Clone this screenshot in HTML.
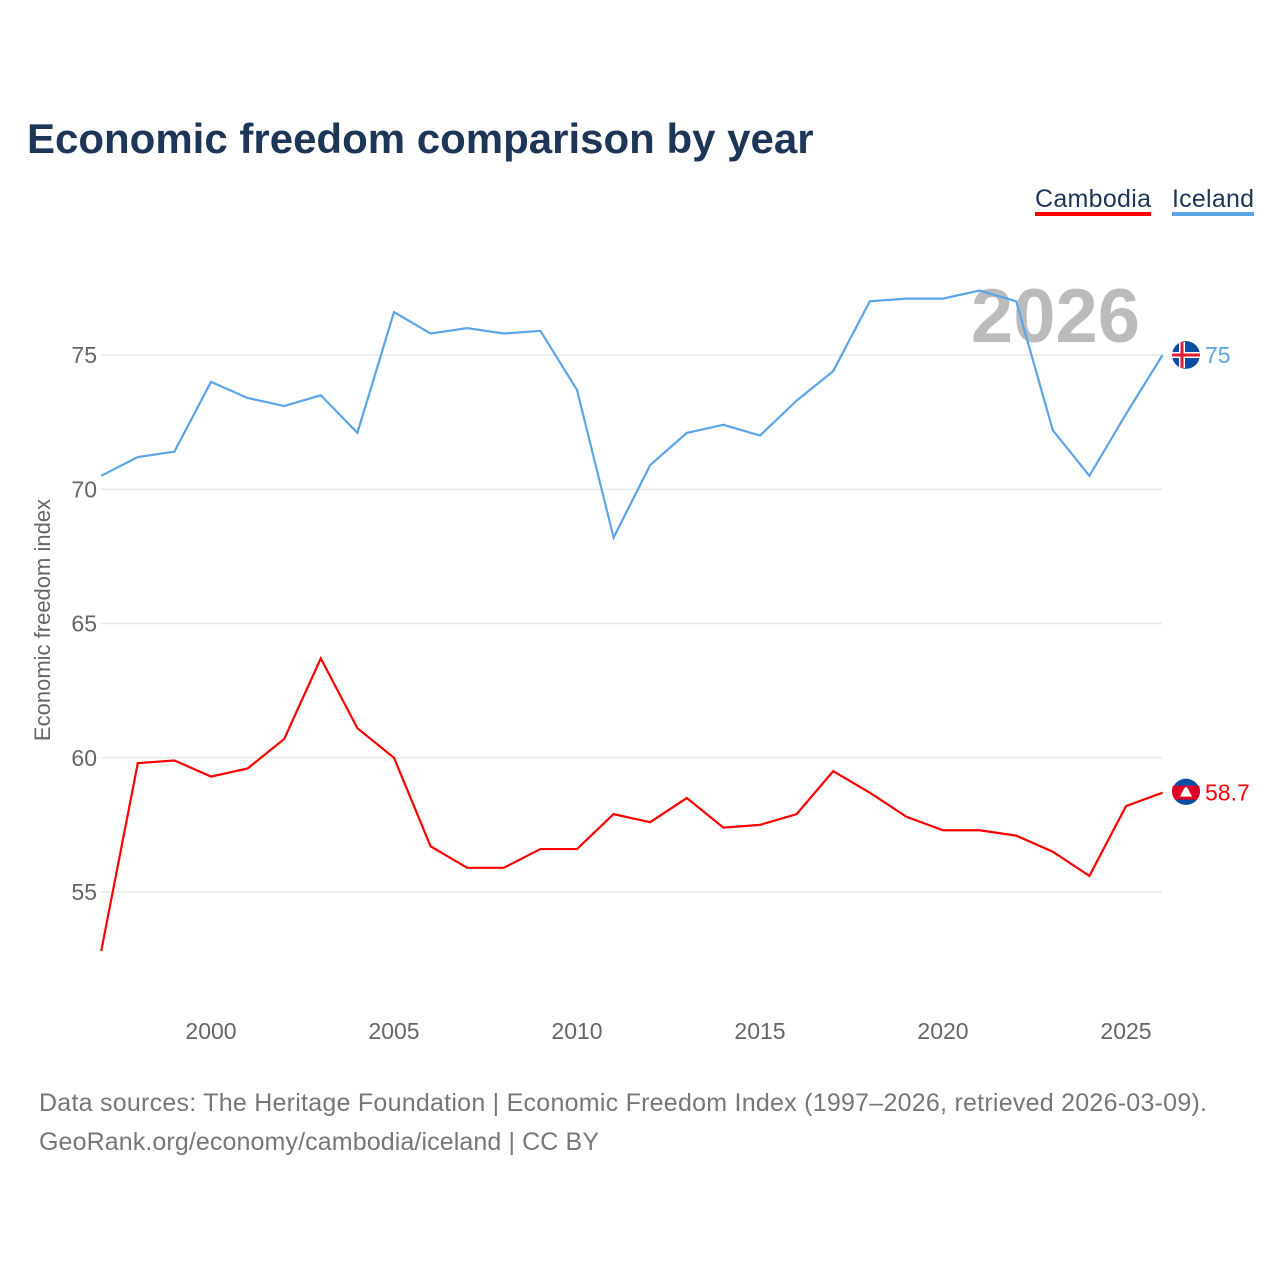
<!DOCTYPE html>
<html><head><meta charset="utf-8"><style>
body{margin:0;background:#fff;font-family:"Liberation Sans",sans-serif}
#wrap{position:relative;width:1280px;height:1280px}
</style></head><body>
<div id="wrap">
<svg id="svg" width="1280" height="1280" xmlns="http://www.w3.org/2000/svg">
<defs>
<clipPath id="cI"><circle cx="1186" cy="355" r="14"/></clipPath>
<clipPath id="cC"><circle cx="1186" cy="791" r="14"/></clipPath>
</defs>
<text x="27" y="153" font-size="42" font-weight="bold" fill="#1d3557">Economic freedom comparison by year</text>
<g><text x="1035" y="207" font-size="25" fill="#1d3557" textLength="116">Cambodia</text><rect x="1035" y="212" width="116" height="4" fill="#ff0000"/></g>
<g><text x="1172" y="207" font-size="25" fill="#1d3557" textLength="82">Iceland</text><rect x="1172" y="212" width="82" height="4" fill="#5ba4e8"/></g>
<text x="1140" y="342" font-size="76" font-weight="bold" fill="#bbbbbb" text-anchor="end">2026</text>
<g id="grid"></g><g id="xt"></g><g id="lines"></g>
<text transform="translate(50,620) rotate(-90)" font-size="22" fill="#666" text-anchor="middle">Economic freedom index</text>
<text x="39" y="1111" font-size="25" fill="#777" textLength="1168">Data sources: The Heritage Foundation | Economic Freedom Index (1997–2026, retrieved 2026-03-09).</text>
<text x="39" y="1150" font-size="25" fill="#777" textLength="560">GeoRank.org/economy/cambodia/iceland | CC BY</text>
</svg></div>
<script>
const years=[1997,1998,1999,2000,2001,2002,2003,2004,2005,2006,2007,2008,2009,2010,2011,2012,2013,2014,2015,2016,2017,2018,2019,2020,2021,2022,2023,2024,2025,2026];
const iceland=[70.5,71.2,71.4,74.0,73.4,73.1,73.5,72.1,76.6,75.8,76.0,75.8,75.9,73.7,68.2,70.9,72.1,72.4,72.0,73.3,74.4,77.0,77.1,77.1,77.4,77.0,72.2,70.5,72.8,75.0];
const cambodia=[52.8,59.8,59.9,59.3,59.6,60.7,63.7,61.1,60.0,56.7,55.9,55.9,56.6,56.6,57.9,57.6,58.5,57.4,57.5,57.9,59.5,58.7,57.8,57.3,57.3,57.1,56.5,55.6,58.2,58.7];
const yTicks=[55,60,65,70,75];
const xTicks=[2000,2005,2010,2015,2020,2025];
const NS="http://www.w3.org/2000/svg";
const X=y=>101.2+(y-1997)*36.6;
const Y=v=>355+(75-v)*26.85;
function mk(t,a,p){const e=document.createElementNS(NS,t);for(const k in a)e.setAttribute(k,a[k]);p.appendChild(e);return e;}
const grid=document.getElementById('grid'),xt=document.getElementById('xt'),lines=document.getElementById('lines');
yTicks.forEach(v=>{
const l=mk('line',{x1:101,x2:1162,y1:Y(v),y2:Y(v),stroke:'#e8e8e8','stroke-width':1.5},grid);


const t=mk('text',{x:97,y:Y(v)+8,'font-size':23,fill:'#666','text-anchor':'end'},grid);t.textContent=v;


});
xTicks.forEach(v=>{
const t=mk('text',{x:X(v),y:1039,'font-size':23,fill:'#666','text-anchor':'middle'},xt);t.textContent=v;


});
function series(data,color,name,label,clip){
const p=mk('polyline',{points:data.map((v,i)=>X(years[i])+','+Y(v)).join(' '),fill:'none',stroke:color,'stroke-width':2.2},lines);


const last=data[data.length-1];
const g=mk('g',{'clip-path':'url(#'+clip+')'},lines);


mk('circle',{cx:1186,cy:Y(last),r:14,fill:'#0b4ea2'},g);
if(name==='iceland'){mk('rect',{x:1172,y:Y(last)-3,width:28,height:6,fill:'#fff'},g);mk('rect',{x:1179,y:Y(last)-13,width:6,height:26,fill:'#fff'},g);mk('rect',{x:1172,y:Y(last)-1.5,width:28,height:3,fill:'#dc1e35'},g);mk('rect',{x:1180.5,y:Y(last)-13,width:3,height:26,fill:'#dc1e35'},g);}
else{mk('rect',{x:1172,y:Y(last)-7,width:28,height:14,fill:'#e00025'},g);mk('path',{d:`M1180 ${Y(last)+4} L1192 ${Y(last)+4} L1188 ${Y(last)-4} L1186 ${Y(last)-6} L1184 ${Y(last)-4} Z`,fill:'#fff'},g);}
const t=mk('text',{x:1205,y:Y(last)+8,'font-size':23,fill:color},lines);t.textContent=label;


}
series(iceland,'#5ba4e8','iceland','75','cI');
series(cambodia,'#ff0000','cambodia','58.7','cC');
</script>
</body></html>
